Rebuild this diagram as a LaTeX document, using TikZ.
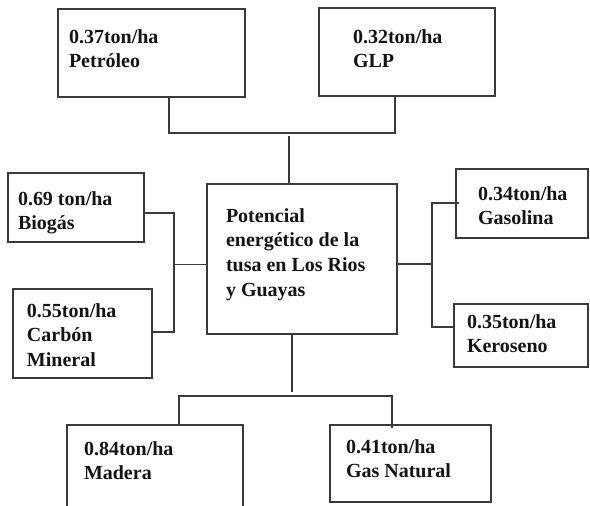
\documentclass[tikz,border=0pt]{standalone}
\usepackage{fontspec}
\setmainfont{Liberation Serif}
\definecolor{linec}{HTML}{3A3A3A}
\definecolor{txtc}{HTML}{141414}
\begin{document}
\begin{tikzpicture}[x=1pt,y=-1pt,
  box/.style={draw=linec, line width=1.2pt, inner sep=0pt, outer sep=0pt},
  txt/.style={anchor=north west, inner sep=0pt, outer sep=0pt, align=left, text=txtc,
    font=\bfseries\fontsize{20}{24.7}\selectfont},
  conn/.style={draw=linec, line width=1.2pt}]
\useasboundingbox[fill=white] (0,0) rectangle (590,506);
% boxes
\node[box, minimum width=187pt, minimum height=88pt] (pet) at (151.5,53) {};
\node[box, minimum width=176pt, minimum height=88pt] (glp) at (407,52) {};
\node[box, minimum width=190pt, minimum height=150pt] (cen) at (302,259) {};
\node[box, minimum width=136pt, minimum height=69pt] (bio) at (76,207.5) {};
\node[box, minimum width=139pt, minimum height=89pt] (car) at (82.5,333.5) {};
\node[box, minimum width=132pt, minimum height=69pt] (gas) at (522,203.5) {};
\node[box, minimum width=134pt, minimum height=63pt] (ker) at (521,335.5) {};
\node[box, minimum width=176pt, minimum height=100pt] (mad) at (155,475) {};
\node[box, minimum width=161pt, minimum height=77pt] (gn) at (410.5,463.5) {};
% texts
\node[txt] (tpet) at (69,29.2) {0.37ton/ha\\Petróleo};
\node[txt] (tglp) at (353,29.2) {0.32ton/ha\\GLP};
\node[txt] (tcen) at (226,208.2) {Potencial\\energético de la\\tusa en Los Rios\\y Guayas};
\node[txt] (tbio) at (18,191.2) {0.69 ton/ha\\Biogás};
\node[txt] (tcar) at (27,303.2) {0.55ton/ha\\Carbón\\Mineral};
\node[txt] (tgas) at (478,186.2) {0.34ton/ha\\Gasolina};
\node[txt] (tker) at (467,314.2) {0.35ton/ha\\Keroseno};
\node[txt] (tmad) at (84,441.2) {0.84ton/ha\\Madera};
\node[txt] (tgn) at (346,439.2) {0.41ton/ha\\Gas Natural};
% junction coordinates
\coordinate (tl) at (169,133);
\coordinate (tr) at (395,133);
\coordinate (tc) at (289,135.5);
\coordinate (lt) at (174,213);
\coordinate (lb) at (174,332);
\coordinate (lm) at (174,264.5);
\coordinate (rm) at (433,264);
\coordinate (rt) at (432,203);
\coordinate (rtend) at (459,203);
\coordinate (rb) at (432,327);
\coordinate (bc) at (292,392);
\coordinate (bl) at (179,396);
\coordinate (br) at (392,396);
\coordinate (brend) at (392,428);
% connectors
\draw[conn] (pet.south -| tl) -- (tl) -- (tr) -- (glp.south -| tr);
\draw[conn] (tc) -- (cen.north -| tc);
\draw[conn] (bio.east |- lt) -- (lt) -- (lb) -- (car.east |- lb);
\draw[conn] (lm) -- (cen.west |- lm);
\draw[conn] (cen.east |- rm) -- (rm);
\draw[conn] (rtend) -- (rt) -- (rb) -- (ker.west |- rb);
\draw[conn] (cen.south -| bc) -- (bc);
\draw[conn] (mad.north -| bl) -- (bl) -- (br) -- (brend);
\end{tikzpicture}
\end{document}
